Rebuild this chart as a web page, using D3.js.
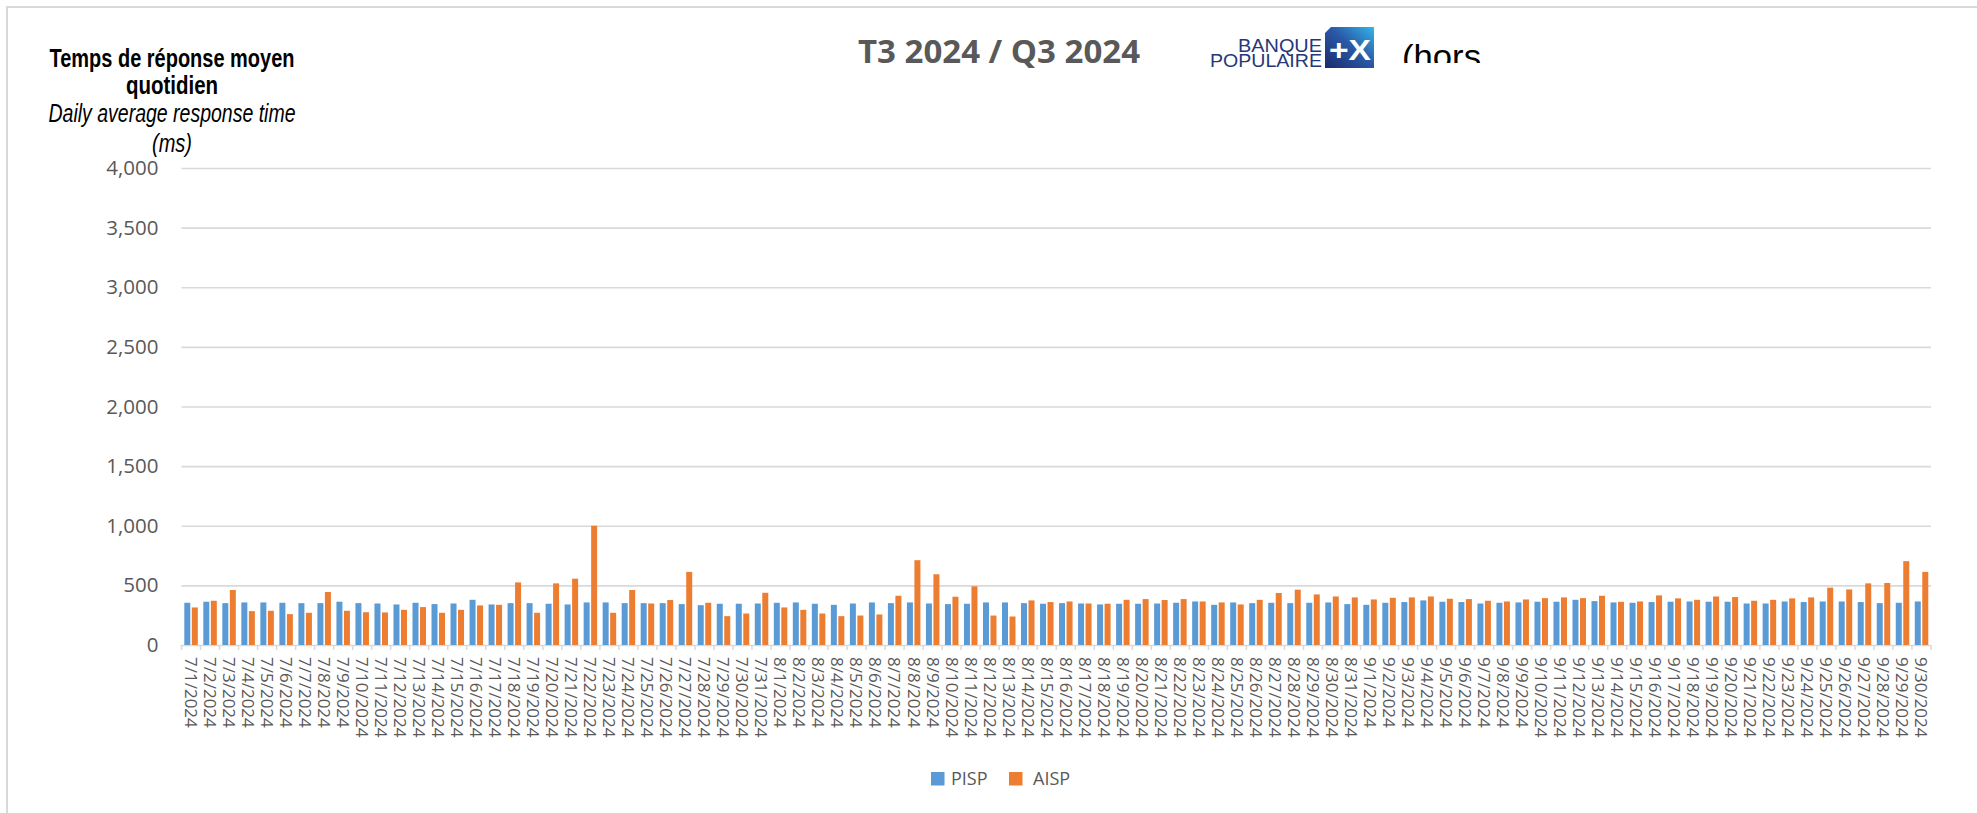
<!DOCTYPE html>
<html>
<head>
<meta charset="utf-8">
<script src="https://cdn.jsdelivr.net/npm/d3@7"></script>
<style>
    body { margin: 0; background: #ffffff; }
    svg { display: block; }
</style>
</head>
<body>
<svg id="chart"></svg>
<script>
//Daily categories of the quarter (x axis)
const dates = [
    "7/1/2024","7/2/2024","7/3/2024","7/4/2024","7/5/2024","7/6/2024","7/7/2024","7/8/2024",
    "7/9/2024","7/10/2024","7/11/2024","7/12/2024","7/13/2024","7/14/2024","7/15/2024","7/16/2024",
    "7/17/2024","7/18/2024","7/19/2024","7/20/2024","7/21/2024","7/22/2024","7/23/2024","7/24/2024",
    "7/25/2024","7/26/2024","7/27/2024","7/28/2024","7/29/2024","7/30/2024","7/31/2024",
    "8/1/2024","8/2/2024","8/3/2024","8/4/2024","8/5/2024","8/6/2024","8/7/2024","8/8/2024",
    "8/9/2024","8/10/2024","8/11/2024","8/12/2024","8/13/2024","8/14/2024","8/15/2024","8/16/2024",
    "8/17/2024","8/18/2024","8/19/2024","8/20/2024","8/21/2024","8/22/2024","8/23/2024","8/24/2024",
    "8/25/2024","8/26/2024","8/27/2024","8/28/2024","8/29/2024","8/30/2024","8/31/2024",
    "9/1/2024","9/2/2024","9/3/2024","9/4/2024","9/5/2024","9/6/2024","9/7/2024","9/8/2024",
    "9/9/2024","9/10/2024","9/11/2024","9/12/2024","9/13/2024","9/14/2024","9/15/2024","9/16/2024",
    "9/17/2024","9/18/2024","9/19/2024","9/20/2024","9/21/2024","9/22/2024","9/23/2024","9/24/2024",
    "9/25/2024","9/26/2024","9/27/2024","9/28/2024","9/29/2024","9/30/2024"
];

//PISP daily average response time (ms)
const pisp = [
    354,363,351,357,357,354,351,351,363,351,348,340,354,343,348,379,340,351,351,346,340,357,
    357,351,351,351,343,334,346,346,348,
    354,357,346,337,348,357,351,357,348,343,346,357,357,351,346,351,348,340,346,346,348,354,
    365,337,357,351,354,351,354,357,343,
    337,354,360,374,363,360,348,354,357,363,363,379,368,357,354,360,363,365,363,363,348,348,
    365,360,365,365,360,351,354,365
];

//AISP daily average response time (ms)
const aisp = [
    315,371,461,284,287,259,270,444,287,275,273,295,318,270,295,332,337,525,270,517,556,1000,
    270,461,348,377,613,354,242,264,438,
    315,295,264,242,247,256,413,711,593,405,492,247,239,374,360,365,348,346,379,385,377,385,
    365,357,340,379,436,464,424,407,399,
    382,396,399,407,388,385,371,365,382,393,399,393,413,362,365,416,391,379,407,402,371,379,
    391,399,481,466,517,520,703,613
];

const seriesNames = ["PISP", "AISP"];
const seriesColors = ["#5b9bd5", "#ed7d31"];
const yTicks = [0, 500, 1000, 1500, 2000, 2500, 3000, 3500, 4000];

//Axis title lines (left, above the y axis)
const yTitleLines = ["Temps de réponse moyen", "quotidien", "Daily average response time", "(ms)"];

const svgWidth = 1977;
const svgHeight = 813;

let svg = d3.select("#chart")
    .attr("width", svgWidth)
    .attr("height", svgHeight);

//Frame of the slide (top and left edges only are visible)
svg.append("path")
    .attr("d", `M7,${svgHeight} L7,7 L${svgWidth},7`)
    .attr("fill", "none")
    .attr("stroke", "#d9d9d9")
    .attr("stroke-width", 2);

//Plot area
let plot = { left: 181.5, right: 1931, top: 168, bottom: 645 };
let innerWidth = plot.right - plot.left;

let xScale = d3.scaleBand()
    .domain(dates)
    .range([plot.left, plot.right])
    .padding(0);

//Position of the two bars inside one day
let subScale = d3.scaleBand()
    .domain(seriesNames)
    .range([2.8, 16.3])
    .paddingInner(0.2);

let yScale = d3.scaleLinear()
    .domain([0, 4000])
    .range([plot.bottom, plot.top]);

//Left axis used as gridlines
let yAxis = svg.append("g")
    .attr("transform", `translate(${plot.left},0)`)
    .call(d3.axisLeft(yScale)
        .tickValues(yTicks)
        .tickFormat(d3.format(","))
        .tickSize(-innerWidth)
        .tickPadding(23));

yAxis.select(".domain").remove();
yAxis.selectAll(".tick line")
    .attr("stroke", "#d9d9d9")
    .attr("stroke-width", 1.6);
yAxis.selectAll(".tick text")
    .attr("fill", "#595959")
    .attr("font-family", "'Open Sans', sans-serif")
    .attr("font-size", "20.5px");

//Small ticks under the baseline, on the day boundaries
svg.append("g")
    .selectAll("line")
    .data(dates.concat(["end"]))
    .join("line")
    .attr("x1", d => d === "end" ? plot.right : xScale(d))
    .attr("x2", d => d === "end" ? plot.right : xScale(d))
    .attr("y1", plot.bottom)
    .attr("y2", plot.bottom + 5)
    .attr("stroke", "#d9d9d9")
    .attr("stroke-width", 1.5);

//Bars
let rows = dates.map((d, i) => ({ date: d, values: [pisp[i], aisp[i]] }));

let dayGroups = svg.append("g")
    .selectAll("g")
    .data(rows)
    .join("g")
    .attr("transform", d => `translate(${xScale(d.date)},0)`);

dayGroups.selectAll("rect")
    .data(d => d.values.map((v, k) => ({ key: seriesNames[k], value: v, color: seriesColors[k] })))
    .join("rect")
    .attr("x", d => subScale(d.key))
    .attr("width", subScale.bandwidth())
    .attr("y", d => yScale(d.value))
    .attr("height", d => plot.bottom - yScale(d.value))
    .attr("fill", d => d.color);

//Bottom axis: vertical date labels
let xAxis = svg.append("g")
    .attr("transform", `translate(0,${plot.bottom})`)
    .call(d3.axisBottom(xScale).tickSize(0));

xAxis.select(".domain").remove();
xAxis.selectAll(".tick text")
    .attr("transform", "rotate(90)")
    .attr("x", 12)
    .attr("y", 0)
    .attr("dy", "0.36em")
    .attr("text-anchor", "start")
    .attr("fill", "#595959")
    .attr("font-family", "'Open Sans', sans-serif")
    .attr("font-size", "17px");

//Title of the y axis (narrow font obtained by compressing Liberation Sans)
let titleGroup = svg.append("g")
    .attr("fill", "#000000")
    .attr("font-family", "'Liberation Sans', Arial, sans-serif")
    .attr("font-size", "25px")
    .attr("text-anchor", "middle");

let titleBaselines = [67, 94, 122, 152];
let titleWidths = [245, 92, 247, 40];
titleGroup.selectAll("text")
    .data(yTitleLines)
    .join("text")
    .attr("x", 172)
    .attr("y", (d, i) => titleBaselines[i])
    .attr("font-weight", (d, i) => i < 2 ? "bold" : "normal")
    .attr("font-style", (d, i) => i < 2 ? "normal" : "italic")
    .attr("textLength", (d, i) => titleWidths[i])
    .attr("lengthAdjust", "spacingAndGlyphs")
    .text(d => d);

//Main title
svg.append("text")
    .attr("x", 858)
    .attr("y", 63)
    .attr("fill", "#595959")
    .attr("font-family", "'Open Sans', sans-serif")
    .attr("font-weight", "bold")
    .attr("font-size", "33px")
    .attr("textLength", 282)
    .attr("lengthAdjust", "spacingAndGlyphs")
    .text("T3 2024 / Q3 2024");

//Banque Populaire logo
let logo = svg.append("g");

logo.append("text")
    .attr("x", 1322)
    .attr("y", 52)
    .attr("text-anchor", "end")
    .attr("fill", "#25377a")
    .attr("font-family", "'Liberation Sans', Arial, sans-serif")
    .attr("font-size", "18px")
    .attr("textLength", 84)
    .attr("lengthAdjust", "spacingAndGlyphs")
    .text("BANQUE");

logo.append("text")
    .attr("x", 1322)
    .attr("y", 67)
    .attr("text-anchor", "end")
    .attr("fill", "#25377a")
    .attr("font-family", "'Liberation Sans', Arial, sans-serif")
    .attr("font-size", "18px")
    .attr("textLength", 112)
    .attr("lengthAdjust", "spacingAndGlyphs")
    .text("POPULAIRE");

let grad = svg.append("defs").append("linearGradient")
    .attr("id", "bpGrad")
    .attr("x1", "0").attr("y1", "1")
    .attr("x2", "1").attr("y2", "0");
grad.append("stop").attr("offset", "0%").attr("stop-color", "#1c2a6b");
grad.append("stop").attr("offset", "55%").attr("stop-color", "#2a5aa8");
grad.append("stop").attr("offset", "100%").attr("stop-color", "#35b6ea");

logo.append("path")
    .attr("d", "M1331,27 L1374,27 L1374,68 L1325,68 L1325,33 Z")
    .attr("fill", "url(#bpGrad)");

logo.append("text")
    .attr("x", 1350)
    .attr("y", 60)
    .attr("text-anchor", "middle")
    .attr("fill", "#ffffff")
    .attr("font-family", "'Liberation Sans', Arial, sans-serif")
    .attr("font-weight", "bold")
    .attr("font-size", "30px")
    .attr("textLength", 42)
    .attr("lengthAdjust", "spacingAndGlyphs")
    .text("+X");

//Partially hidden text next to the logo
svg.append("clipPath")
    .attr("id", "horsClip")
    .append("rect")
    .attr("x", 1390).attr("y", 30)
    .attr("width", 120).attr("height", 33);

svg.append("text")
    .attr("x", 1402)
    .attr("y", 68)
    .attr("clip-path", "url(#horsClip)")
    .attr("fill", "#000000")
    .attr("font-family", "'Liberation Sans', Arial, sans-serif")
    .attr("font-size", "34px")
    .attr("textLength", 79)
    .attr("lengthAdjust", "spacingAndGlyphs")
    .text("(hors");

//Legend
let legend = svg.append("g")
    .selectAll("g")
    .data(seriesNames)
    .join("g")
    .attr("transform", (d, i) => `translate(${i === 0 ? 931 : 1009},772)`);

legend.append("rect")
    .attr("width", 13.5)
    .attr("height", 13.5)
    .attr("fill", (d, i) => seriesColors[i]);

legend.append("text")
    .attr("x", (d, i) => i === 0 ? 20 : 24)
    .attr("y", 7)
    .attr("dy", "0.36em")
    .attr("fill", "#595959")
    .attr("font-family", "'Open Sans', sans-serif")
    .attr("font-size", "18px")
    .text(d => d);
</script>
</body>
</html>
